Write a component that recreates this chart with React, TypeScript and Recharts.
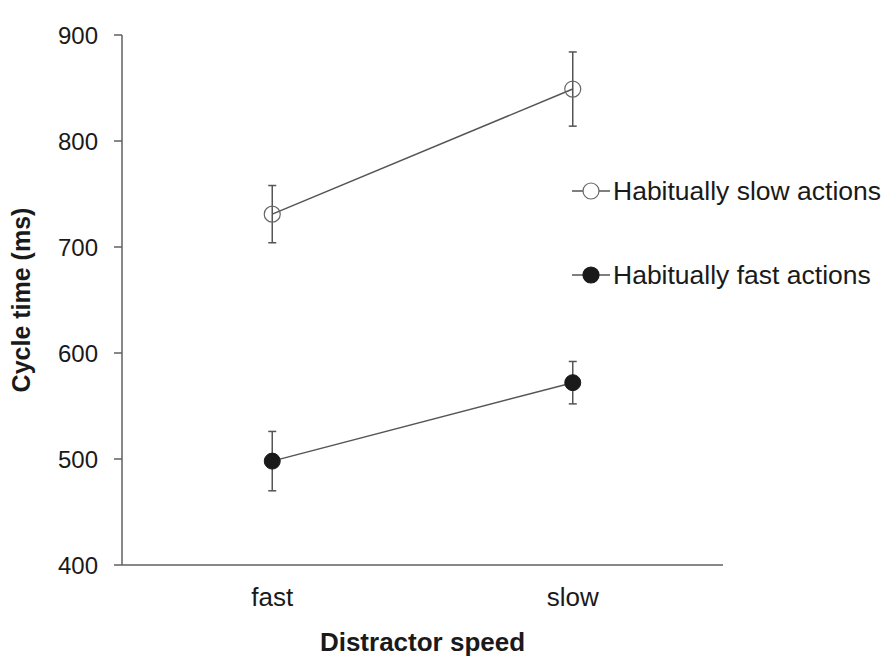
import { LineChart, Line, XAxis, YAxis, ErrorBar } from 'recharts';

const categories = ['fast', 'slow'];
const slowActions = [731, 849];
const slowActionsErr = [27, 35];
const fastActions = [498, 572];
const fastActionsErr = [28, 20];
const yTicks = [400, 500, 600, 700, 800, 900];

const data = categories.map((c, i) => ({
  pos: i + 0.5,
  name: c,
  slow: slowActions[i],
  slowErr: slowActionsErr[i],
  fast: fastActions[i],
  fastErr: fastActionsErr[i],
}));

const AXIS = '#606060';
const FONT = '"Liberation Sans", Arial, sans-serif';

function LegendBox() {
  const items = [
    { label: 'Habitually slow actions', filled: false },
    { label: 'Habitually fast actions', filled: true },
  ];
  return (
    <div style={{ position: 'absolute', left: 572, top: 176, width: 320, fontFamily: FONT, fontSize: 26.5, color: '#1a1a1a' }}>
      {items.map((it) => (
        <div key={it.label} style={{ display: 'flex', alignItems: 'center', height: 30, marginBottom: 54, whiteSpace: 'nowrap' }}>
          <svg width={38} height={20} style={{ marginRight: 3, flex: 'none' }}>
            <line x1={0} y1={10} x2={38} y2={10} stroke="#555" strokeWidth={1.5} />
            <circle cx={19} cy={10} r={8} fill={it.filled ? '#1a1a1a' : '#fff'} stroke={it.filled ? '#1a1a1a' : '#666'} strokeWidth={1.2} />
          </svg>
          <span>{it.label}</span>
        </div>
      ))}
    </div>
  );
}

export default function App() {
  return (
    <div style={{ position: 'absolute', left: 0, top: 0, width: 892, height: 667, background: '#fff' }}>
      <LineChart width={892} height={667} data={data} margin={{ top: 35, right: 169, left: 0, bottom: 0 }}>
        <XAxis
          dataKey="pos"
          type="number"
          domain={[0, 2]}
          ticks={[0, 1, 2]}
          allowDataOverflow
          height={8}
          tick={false}
          tickSize={8}
          axisLine={{ stroke: AXIS, strokeWidth: 1.5 }}
          tickLine={{ stroke: AXIS, strokeWidth: 1.5 }}
        />
        <XAxis
          xAxisId="labels"
          type="category"
          scale="band"
          dataKey="name"
          height={94}
          axisLine={false}
          tickLine={false}
          tickSize={0}
          tickMargin={15}
          tick={{ fontSize: 26, fill: '#1a1a1a', fontFamily: FONT }}
          label={{ value: 'Distractor speed', position: 'insideBottom', offset: 16, style: { fontSize: 26, fontWeight: 'bold', fill: '#1a1a1a', fontFamily: FONT } }}
        />
        <YAxis
          domain={[400, 900]}
          ticks={yTicks}
          width={122}
          tickSize={8}
          tickMargin={16}
          axisLine={{ stroke: AXIS, strokeWidth: 1.5 }}
          tickLine={{ stroke: AXIS, strokeWidth: 1.5 }}
          tick={{ fontSize: 24, fill: '#1a1a1a', fontFamily: FONT }}
          label={{ value: 'Cycle time (ms)', angle: -90, position: 'insideLeft', offset: 21, style: { textAnchor: 'middle', fontSize: 25, fontWeight: 'bold', fill: '#1a1a1a', fontFamily: FONT } }}
        />
        <Line
          dataKey="slow"
          stroke="#555"
          strokeWidth={1.5}
          dot={{ r: 8, fill: 'none', stroke: '#666', strokeWidth: 1.2 }}
          activeDot={false}
          isAnimationActive={false}
        >
          <ErrorBar dataKey="slowErr" width={4} stroke="#555" strokeWidth={1.5} direction="y" />
        </Line>
        <Line
          dataKey="fast"
          stroke="#555"
          strokeWidth={1.5}
          dot={{ r: 8, fill: '#1a1a1a', stroke: '#1a1a1a', strokeWidth: 1 }}
          activeDot={false}
          isAnimationActive={false}
        >
          <ErrorBar dataKey="fastErr" width={4} stroke="#555" strokeWidth={1.5} direction="y" />
        </Line>
      </LineChart>
      <LegendBox />
    </div>
  );
}
